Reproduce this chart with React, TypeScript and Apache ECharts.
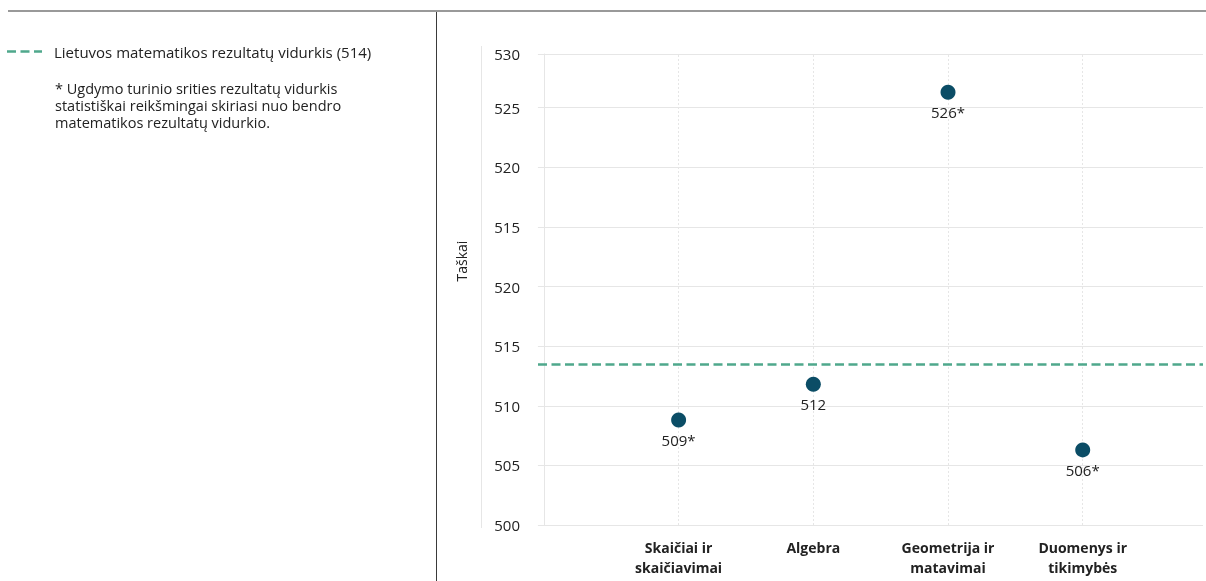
import React, { useEffect, useRef } from "react";
import * as echarts from "echarts";

// ---- data ----
const categories = ["Skaičiai ir\nskaičiavimai", "Algebra", "Geometrija ir\nmatavimai", "Duomenys ir\ntikimybės"];
const categoryPositions = [1, 2, 3, 4];
const scores = [508.8, 511.8, 526.3, 506.3];
const significant = [true, false, true, true];
const nationalMean = 513.5;
const nationalMeanLabel = "Lietuvos matematikos rezultatų vidurkis (514)";
const noteLines = [
  "* Ugdymo turinio srities rezultatų vidurkis",
  "statistiškai reikšmingai skiriasi nuo bendro",
  "matematikos rezultatų vidurkio.",
];
const yAxisTitle = "Taškai";

// The original axis is broken: values above 520 are drawn on an upper
// segment shifted by 10 units (its labels run 515..530 again).
const BREAK_AT = 520;
const BREAK_SHIFT = 10;
const toAxis = (v: number) => (v > BREAK_AT ? v + BREAK_SHIFT : v);
const axisLabelOf = (v: number) => (v > BREAK_AT ? String(Math.round(v - BREAK_SHIFT)) : String(Math.round(v)));

const TEAL = "#4fa88c";
const DOT = "#0b4d66";
const TEXT = "#222222";
const GRID = "#e6e6e6";
const FONT = "'Open Sans', 'Noto Sans', sans-serif";

export default function App() {
  const ref = useRef<HTMLDivElement>(null);
  useEffect(() => {
    if (!ref.current) return;
    const chart = echarts.init(ref.current, undefined, { renderer: "svg" });
    const pointData = scores.map((v, i) => [categoryPositions[i], toAxis(v)]);
    const option: any = {
      animation: false,
      textStyle: { fontFamily: FONT },
      grid: { left: 538, right: 0, top: 54, bottom: 56 },
      xAxis: {
        type: "value",
        min: -0.044,
        max: 4.893,
        splitNumber: 5,
        axisLine: { show: false },
        axisTick: { show: false },
        splitLine: { show: false },
        axisLabel: {
          margin: 12,
          color: TEXT,
          fontSize: 14,
          fontWeight: "bold",
          lineHeight: 20,
          fontFamily: FONT,
          formatter: (v: number) => {
            const i = categoryPositions.indexOf(v);
            return i >= 0 ? categories[i] : "";
          },
        },
      },
      yAxis: {
        type: "value",
        min: 500,
        max: 539.5,
        interval: 5,
        axisLine: { show: true, lineStyle: { color: GRID, width: 1 } },
        axisTick: { show: true, length: 6, lineStyle: { color: GRID } },
        splitLine: { show: true, lineStyle: { color: GRID, width: 1 } },
        axisLabel: {
          margin: 18,
          color: TEXT,
          fontSize: 15,
          fontFamily: FONT,
          formatter: (v: number) => axisLabelOf(v),
        },
      },
      graphic: [
        { type: "line", shape: { x1: 8, y1: 11, x2: 1206, y2: 11 }, style: { stroke: "#999999", lineWidth: 2 } },
        { type: "line", shape: { x1: 436.5, y1: 12, x2: 436.5, y2: 581 }, style: { stroke: "#3a3a3a", lineWidth: 1 } },
        { type: "line", shape: { x1: 481.5, y1: 46, x2: 481.5, y2: 528 }, style: { stroke: GRID, lineWidth: 1 } },
        {
          type: "line",
          shape: { x1: 7, y1: 51.5, x2: 42, y2: 51.5 },
          style: { stroke: TEAL, lineWidth: 2.5, lineDash: [9, 4.5] },
        },
        {
          type: "text",
          x: 54,
          y: 51.5,
          style: {
            text: nationalMeanLabel,
            font: `15px ${FONT}`,
            fill: TEXT,
            textAlign: "left",
            align: "left",
            textVerticalAlign: "middle",
            verticalAlign: "middle",
          },
        },
        ...noteLines.map((line, i) => ({
          type: "text",
          x: 55,
          y: 88 + i * 17,
          style: {
            text: line,
            font: `14.5px ${FONT}`,
            fill: TEXT,
            textAlign: "left",
            align: "left",
            textVerticalAlign: "middle",
            verticalAlign: "middle",
          },
        })),
        {
          type: "text",
          x: 461,
          y: 261,
          rotation: Math.PI / 2,
          style: {
            text: yAxisTitle,
            font: `14px ${FONT}`,
            fill: TEXT,
            textAlign: "center",
            align: "center",
            textVerticalAlign: "middle",
            verticalAlign: "middle",
          },
        },
      ],
      series: [
        {
          type: "scatter",
          z: 1,
          silent: true,
          symbolSize: 0,
          itemStyle: { opacity: 0 },
          data: pointData,
          markLine: {
            silent: true,
            symbol: "none",
            label: { show: false },
            data: [
              ...categoryPositions.map((x) => ({
                xAxis: x,
                lineStyle: { color: "#e6e6e6", type: [2, 2], width: 1 },
              })),
              {
                yAxis: toAxis(nationalMean),
                lineStyle: { color: TEAL, type: [9, 4.5], width: 2.5 },
              },
            ],
          },
        },
        {
          type: "scatter",
          z: 5,
          symbol: "circle",
          symbolSize: 15,
          itemStyle: { color: DOT, opacity: 1 },
          data: pointData,
          label: {
            show: true,
            position: "bottom",
            distance: 5,
            color: TEXT,
            fontSize: 15,
            fontFamily: FONT,
            formatter: (p: any) => String(Math.round(scores[p.dataIndex])) + (significant[p.dataIndex] ? "*" : ""),
          },
        },
      ],
    };
    chart.setOption(option);
    return () => chart.dispose();
  }, []);
  return <div ref={ref} style={{ position: "fixed", left: 0, top: 0, width: 1206, height: 581 }} />;
}
